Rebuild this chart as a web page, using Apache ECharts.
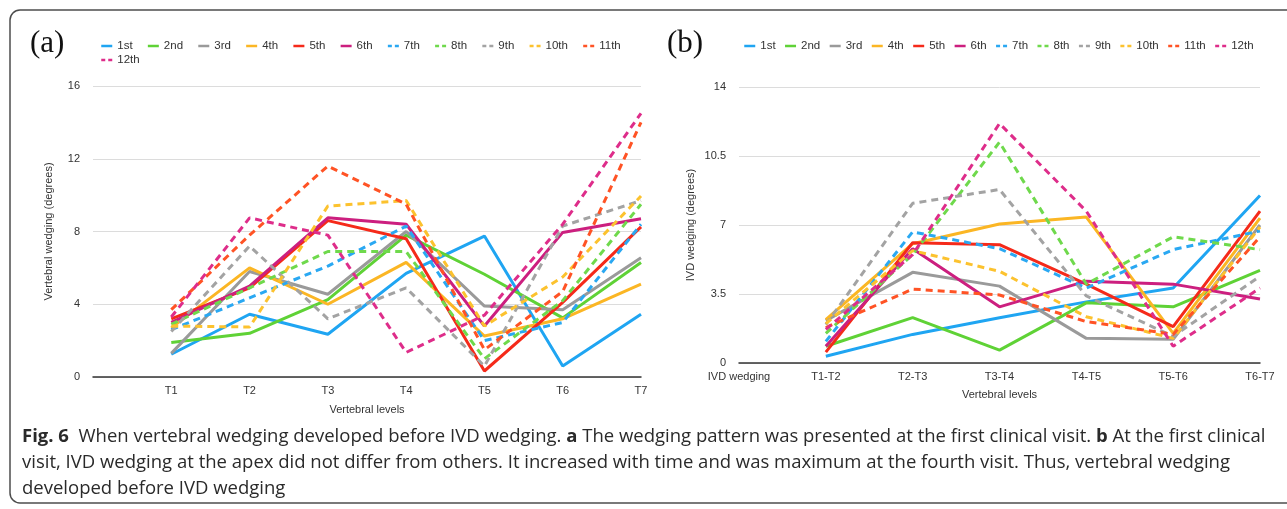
<!DOCTYPE html>
<html>
<head>
<meta charset="utf-8">
<script src="https://cdn.jsdelivr.net/npm/echarts@6/dist/echarts.min.js"></script>
<style>
html,body{margin:0;padding:0;background:#fff;}
#c{width:1287px;height:509px;}
</style>
</head>
<body>
<div id="c"></div>
<script>
// ---- Data ----
const visitNames = ['1st','2nd','3rd','4th','5th','6th','7th','8th','9th','10th','11th','12th'];
const vertebralLevels = ['', 'T1', 'T2', 'T3', 'T4', 'T5', 'T6', 'T7'];
const ivdLevels = ['IVD wedging', 'T1-T2', 'T2-T3', 'T3-T4', 'T4-T5', 'T5-T6', 'T6-T7'];
const vertebralTicks = [0, 4, 8, 12, 16];
const ivdTicks = [0, 3.5, 7, 10.5, 14];

// Vertebral wedging (degrees), T1..T7
const vw1st  = [1.25, 3.45, 2.35, 5.7, 7.75, 0.6, 3.45];
const vw2nd  = [1.9, 2.4, 4.25, 7.8, 5.65, 3.25, 6.3];
const vw3rd  = [1.3, 5.8, 4.55, 8.0, 3.9, 3.7, 6.55];
const vw4th  = [2.7, 6.0, 4.0, 6.3, 2.25, 3.2, 5.1];
const vw5th  = [3.2, 4.9, 8.6, 7.6, 0.33, 4.1, 8.25];
const vw6th  = [3.0, 5.0, 8.75, 8.4, 2.8, 7.95, 8.7];
const vw7th  = [2.6, 4.35, 6.1, 8.3, 2.0, 3.0, 8.4];
const vw8th  = [2.9, 4.9, 6.9, 6.9, 1.0, 4.2, 9.5];
const vw9th  = [2.5, 7.2, 3.2, 4.9, 0.6, 8.3, 9.7];
const vw10th = [2.8, 2.75, 9.4, 9.7, 2.8, 5.5, 9.95];
const vw11th = [3.7, 7.8, 11.6, 9.5, 1.5, 4.7, 14.0];
const vw12th = [3.3, 8.75, 7.8, 1.35, 3.4, 8.4, 14.5];

// IVD wedging (degrees), T1-T2..T6-T7
const ivd1st  = [0.34, 1.45, 2.3, 3.1, 3.8, 8.5];
const ivd2nd  = [0.85, 2.3, 0.65, 3.05, 2.85, 4.7];
const ivd3rd  = [2.15, 4.6, 3.9, 1.25, 1.2, 7.0];
const ivd4th  = [2.2, 6.05, 7.05, 7.4, 1.5, 7.35];
const ivd5th  = [0.55, 6.1, 6.0, 4.0, 1.85, 7.7];
const ivd6th  = [0.85, 5.8, 2.85, 4.15, 4.0, 3.25];
const ivd7th  = [1.1, 6.65, 5.8, 3.8, 5.75, 6.7];
const ivd8th  = [1.5, 5.5, 11.2, 4.0, 6.4, 5.75];
const ivd9th  = [1.95, 8.1, 8.8, 3.4, 1.35, 4.4];
const ivd10th = [2.0, 5.7, 4.65, 2.35, 1.25, 6.9];
const ivd11th = [1.8, 3.75, 3.45, 2.1, 1.45, 6.4];
const ivd12th = [1.7, 5.5, 12.15, 7.7, 0.85, 3.8];

const vwData = [vw1st, vw2nd, vw3rd, vw4th, vw5th, vw6th, vw7th, vw8th, vw9th, vw10th, vw11th, vw12th];
const ivdData = [ivd1st, ivd2nd, ivd3rd, ivd4th, ivd5th, ivd6th, ivd7th, ivd8th, ivd9th, ivd10th, ivd11th, ivd12th];

// ---- Styles ----
const colors = ['#1fa5f2','#5fd236','#9a9a9a','#fbb624','#f52a1a','#cc1f7f',
                '#2aa8f2','#6fd94c','#a3a3a3','#fcc22e','#ff5325','#de2d8a'];
const FONT = 'Liberation Sans';

const series = [];
[vwData, ivdData].forEach((set, axisIdx) => {
  visitNames.forEach((name, i) => {
    const dashed = i >= 6;
    series.push({
      name, type: 'line', xAxisIndex: axisIdx, yAxisIndex: axisIdx, symbol: 'none',
      data: [null].concat(set[i]),
      lineStyle: {color: colors[i], width: 3, type: dashed ? [7, 5] : 'solid'},
      itemStyle: {color: colors[i]},
      emphasis: {disabled: true}, animation: false
    });
  });
});

function legendItems(names) {
  return names.map(n => {
    const i = visitNames.indexOf(n);
    return {
      name: n,
      itemStyle: {opacity: 0},
      lineStyle: {color: colors[i], width: 2.5, type: i >= 6 ? [4, 3] : 'solid'}
    };
  });
}

const legendCommon = {
  orient: 'horizontal', itemWidth: 11, itemHeight: 8,
  textStyle: {fontFamily: FONT, fontSize: 11.5, color: '#333'},
  selectedMode: false
};

const xCommon = {
  type: 'category', boundaryGap: false,
  axisLine: {lineStyle: {color: '#333', width: 1.5}},
  axisTick: {show: false},
  axisLabel: {fontFamily: FONT, fontSize: 11, color: '#333', margin: 8, interval: 0},
  nameLocation: 'middle',
  nameTextStyle: {fontFamily: FONT, fontSize: 11, color: '#333'}
};
const yCommon = {
  type: 'value', min: 0,
  axisLine: {show: false}, axisTick: {show: false},
  splitLine: {lineStyle: {color: '#dcdcdc', width: 1}},
  axisLabel: {fontFamily: FONT, fontSize: 11, color: '#333', margin: 13},
  nameLocation: 'middle', nameRotate: 90,
  nameTextStyle: {fontFamily: FONT, fontSize: 11, color: '#333'}
};

const CAP = 18.5;
const captionStyle = {
  fontFamily: 'Open Sans', fontSize: CAP, fill: '#2a2a2a',
  rich: {b: {fontFamily: 'Open Sans', fontSize: CAP, fontWeight: 'bold', color: '#1a1a1a'}}
};

const option = {
  backgroundColor: '#ffffff',
  animation: false,
  grid: [
    {left: 93, right: 1287 - 641, top: 86, bottom: 509 - 377},
    {left: 739, right: 1287 - 1260, top: 87, bottom: 509 - 363}
  ],
  xAxis: [
    Object.assign({}, xCommon, {gridIndex: 0, data: vertebralLevels, name: 'Vertebral levels', nameGap: 27}),
    Object.assign({}, xCommon, {gridIndex: 1, data: ivdLevels, name: 'Vertebral levels', nameGap: 26})
  ],
  yAxis: [
    Object.assign({}, yCommon, {gridIndex: 0, max: vertebralTicks[vertebralTicks.length - 1],
      interval: vertebralTicks[1] - vertebralTicks[0], name: 'Vertebral wedging (degrees)', nameGap: 39}),
    Object.assign({}, yCommon, {gridIndex: 1, max: ivdTicks[ivdTicks.length - 1],
      interval: ivdTicks[1] - ivdTicks[0], name: 'IVD wedging (degrees)', nameGap: 43})
  ],
  legend: [
    Object.assign({}, legendCommon, {left: 95, top: 35, itemGap: 14, data: legendItems(visitNames.slice(0, 11))}),
    Object.assign({}, legendCommon, {left: 95, top: 49, itemGap: 14, data: legendItems(visitNames.slice(11))}),
    Object.assign({}, legendCommon, {left: 738, top: 35, itemGap: 8.2, data: legendItems(visitNames)})
  ],
  series,
  graphic: [
    {type: 'rect', silent: true, shape: {x: 10, y: 10, width: 1320, height: 493, r: 10},
     style: {fill: 'none', stroke: '#4d4d4d', lineWidth: 1.5}},
    {type: 'text', silent: true, left: 30, top: 28,
     style: {text: '(a)', fontFamily: 'Liberation Serif', fontSize: 31, fill: '#111'}},
    {type: 'text', silent: true, left: 667, top: 28,
     style: {text: '(b)', fontFamily: 'Liberation Serif', fontSize: 31, fill: '#111'}},
    {type: 'text', silent: true, left: 22, top: 427,
     style: Object.assign({}, captionStyle, {text: '{b|Fig. 6}  When vertebral wedging developed before IVD wedging. {b|a} The wedging pattern was presented at the first clinical visit. {b|b} At the first clinical'})},
    {type: 'text', silent: true, left: 22, top: 453,
     style: Object.assign({}, captionStyle, {text: 'visit, IVD wedging at the apex did not differ from others. It increased with time and was maximum at the fourth visit. Thus, vertebral wedging'})},
    {type: 'text', silent: true, left: 22, top: 479,
     style: Object.assign({}, captionStyle, {text: 'developed before IVD wedging'})}
  ]
};

const chart = echarts.init(document.getElementById('c'), null, {renderer: 'canvas'});
chart.setOption(option);
</script>
</body>
</html>
